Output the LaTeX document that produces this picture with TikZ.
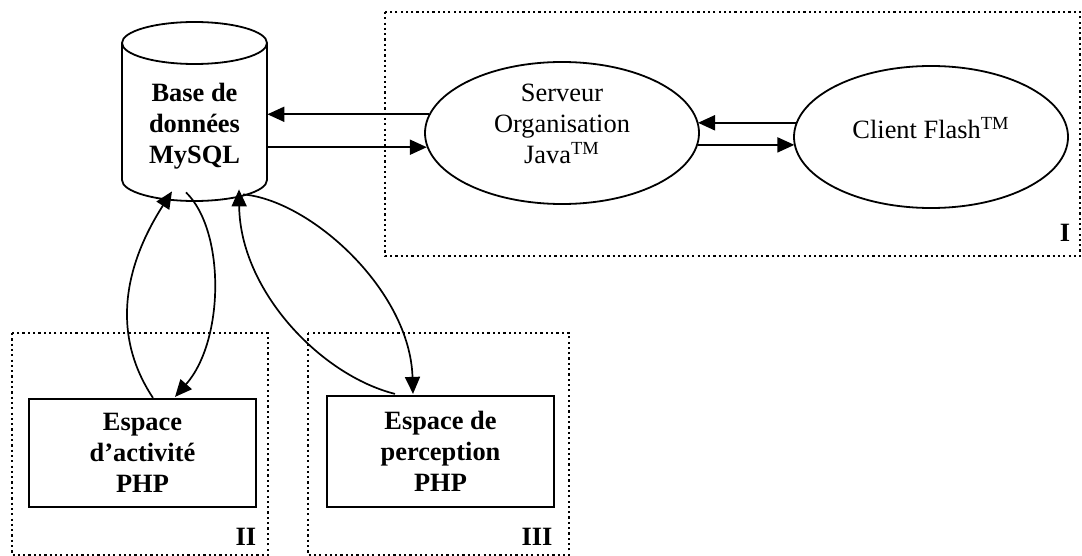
\documentclass[tikz,border=0pt]{standalone}
\usepackage{fontspec}
\setmainfont{Liberation Serif}
\usetikzlibrary{arrows.meta,calc,shapes.geometric}
\begin{document}
\begin{tikzpicture}[x=0.5pt,y=-0.5pt,
  arr/.style={line width=1pt,-{Triangle[length=8.5pt,width=7.5pt]}},
  carr/.style={line width=0.85pt,-{Triangle[length=8.5pt,width=7.5pt]}},
  zone/.style={line width=1.1pt,dash pattern=on 1.1pt off 1.55pt},
  oval/.style={ellipse,draw,line width=0.9pt,minimum width=137pt,minimum height=71pt,inner sep=0pt},
  appbox/.style={draw,line width=1.1pt,minimum width=113.5pt,inner sep=0pt,font=\fontsize{13.2pt}{15.5pt}\selectfont\bfseries,align=center},
  txt/.style={font=\fontsize{13.2pt}{15.5pt}\selectfont,align=center,inner sep=0pt},
  btxt/.style={txt,font=\fontsize{13.2pt}{15.5pt}\selectfont\bfseries},
  zlabel/.style={font=\fontsize{13.2pt}{15.5pt}\selectfont\bfseries,inner sep=0pt}
]
\useasboundingbox (0,0) rectangle (1082,556);

% zones
\draw[zone] (385,12) rectangle (1080,256);
\draw[zone] (12,333) rectangle (268,555);
\draw[zone] (308,333) rectangle (569,555);
\node[zlabel] (lI) at (1065,233) {I};
\node[zlabel] (lII) at (246,537) {II};
\node[zlabel] (lIII) at (537,537) {III};

% database cylinder
\draw[line width=0.9pt] (194.5,43) ellipse [x radius=36.25pt, y radius=10.5pt];
\draw[line width=0.9pt] (122,43) -- (122,180) arc[start angle=180,end angle=360,x radius=36.25pt,y radius=10.5pt] -- (267,43);
\node[minimum width=72.5pt,minimum height=89pt,inner sep=0pt] (db) at (194.5,111) {};
\node[btxt] (dbtext) at (194.5,126) {Base de\\données\\MySQL};

% ellipses
\node[oval] (srv) at (562,133) {};
\node[txt] (srvtext) at (562,124) {Serveur\\Organisation\\Java\textsuperscript{TM}};
\node[oval] (cli) at (931,137) {};
\node[txt] (clitext) at (931,128) {Client Flash\textsuperscript{TM}};

% PHP boxes
\node[appbox,minimum height=54pt] (r2) at (142.5,453) {Espace\\d’activité\\PHP};
\node[appbox,minimum height=55.5pt] (r3) at (440.5,451.5) {Espace de\\perception\\PHP};

% straight connectors
\draw[arr] (srv.172) -- (srv.172 -| db.east);
\draw[arr] (db.east |- srv.186) -- (srv.186);
\draw[arr] (cli.174) -- (cli.174 -| srv.5);
\draw[arr] (srv.355) -- (srv.355 -| cli.184);

% curved connectors
\draw[carr] ($(r2.north)+(10.5,0)$) .. controls (108,330) and (128,260) .. ($(db.south)+(-22.5,-9)$);
\draw[carr] ($(db.south)+(-8.5,-8)$) .. controls (225,230) and (225,340) .. ($(r2.north)+(32.5,-1)$);
\draw[carr] ($(r3.north)+(-45.5,-1)$) .. controls (320,375) and (240,290) .. ($(db.south)+(44.5,-11)$);
\draw[carr] ($(db.south)+(48.5,-6)$) .. controls (310,200) and (410,290) .. ($(r3.north)+(-27.5,-1)$);
\end{tikzpicture}
\end{document}
